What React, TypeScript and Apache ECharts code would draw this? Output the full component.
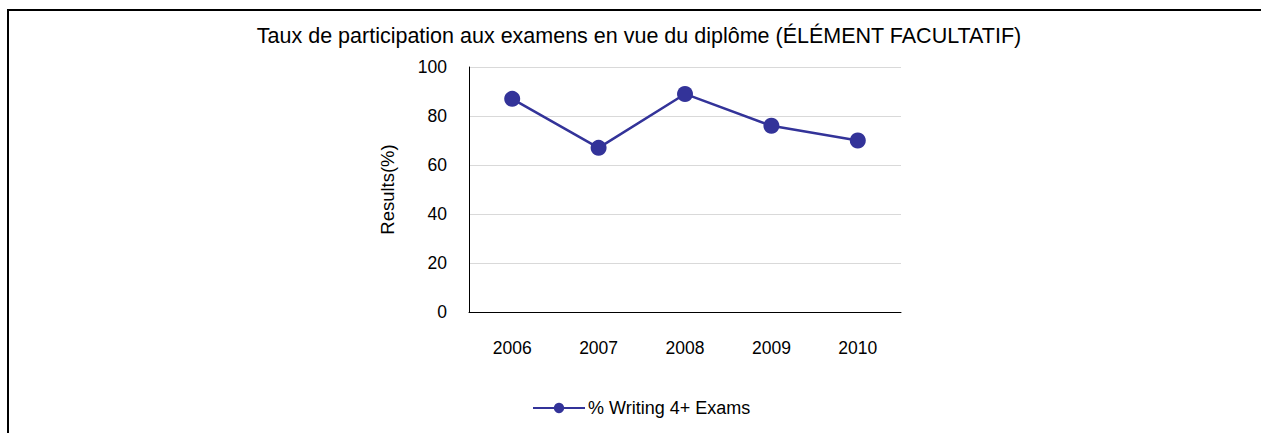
import React, { useEffect, useRef } from "react";
import * as echarts from "echarts";

const titleText = "Taux de participation aux examens en vue du diplôme (ÉLÉMENT FACULTATIF)";
const categories = ["2006", "2007", "2008", "2009", "2010"];
const seriesName = "% Writing 4+ Exams";
const seriesValues = [87, 67, 89, 76, 70];
const yAxisName = "Results(%)";

export default function App() {
  const ref = useRef<HTMLDivElement>(null);
  useEffect(() => {
    if (!ref.current) return;
    const chart = echarts.init(ref.current, undefined, { renderer: "svg" });
    const font = "'Liberation Sans', Arial, sans-serif";
    chart.setOption({
      animation: false,
      backgroundColor: "#ffffff",
      title: {
        text: titleText,
        left: 634,
        textAlign: "center",
        top: 20,
        textStyle: { fontFamily: font, fontSize: 21.5, fontWeight: "normal", color: "#000" },
      },
      graphic: [
        { type: "line", shape: { x1: 8, y1: 9, x2: 8, y2: 433 }, style: { stroke: "#000", lineWidth: 2 } },
        { type: "line", shape: { x1: 7, y1: 10, x2: 1261, y2: 10 }, style: { stroke: "#000", lineWidth: 2 } },
      ],
      legend: {
        data: [seriesName],
        left: 527,
        top: 394,
        itemWidth: 52,
        itemHeight: 13,
        itemGap: 2,
        textStyle: { fontFamily: font, fontSize: 18, color: "#000", padding: [0, 0, 0, -2] },
      },
      grid: { left: 469, top: 67, right: 360, bottom: 121, containLabel: false },
      xAxis: {
        type: "category",
        data: categories,
        boundaryGap: true,
        axisLine: { lineStyle: { color: "#000", width: 1 } },
        axisTick: { show: false },
        axisLabel: { margin: 27, fontFamily: font, fontSize: 17.5, color: "#000" },
      },
      yAxis: {
        type: "value",
        min: 0,
        max: 100,
        interval: 20,
        name: yAxisName,
        nameLocation: "middle",
        nameGap: 72,
        nameTextStyle: { fontFamily: font, fontSize: 18.5, color: "#000" },
        axisLine: { show: true, lineStyle: { color: "#000", width: 1 } },
        axisTick: { show: false },
        splitLine: { lineStyle: { color: "#d9d9d9", width: 1 } },
        axisLabel: { margin: 22, fontFamily: font, fontSize: 17.5, color: "#000" },
      },
      series: [
        {
          name: seriesName,
          type: "line",
          data: seriesValues,
          symbol: "circle",
          symbolSize: 16,
          itemStyle: { color: "#333399" },
          lineStyle: { color: "#333399", width: 2.5 },
        },
      ],
    });
    return () => chart.dispose();
  }, []);
  return (
    <div
      ref={ref}
      style={{ position: "fixed", left: 0, top: 0, width: 1261, height: 433 }}
    />
  );
}
